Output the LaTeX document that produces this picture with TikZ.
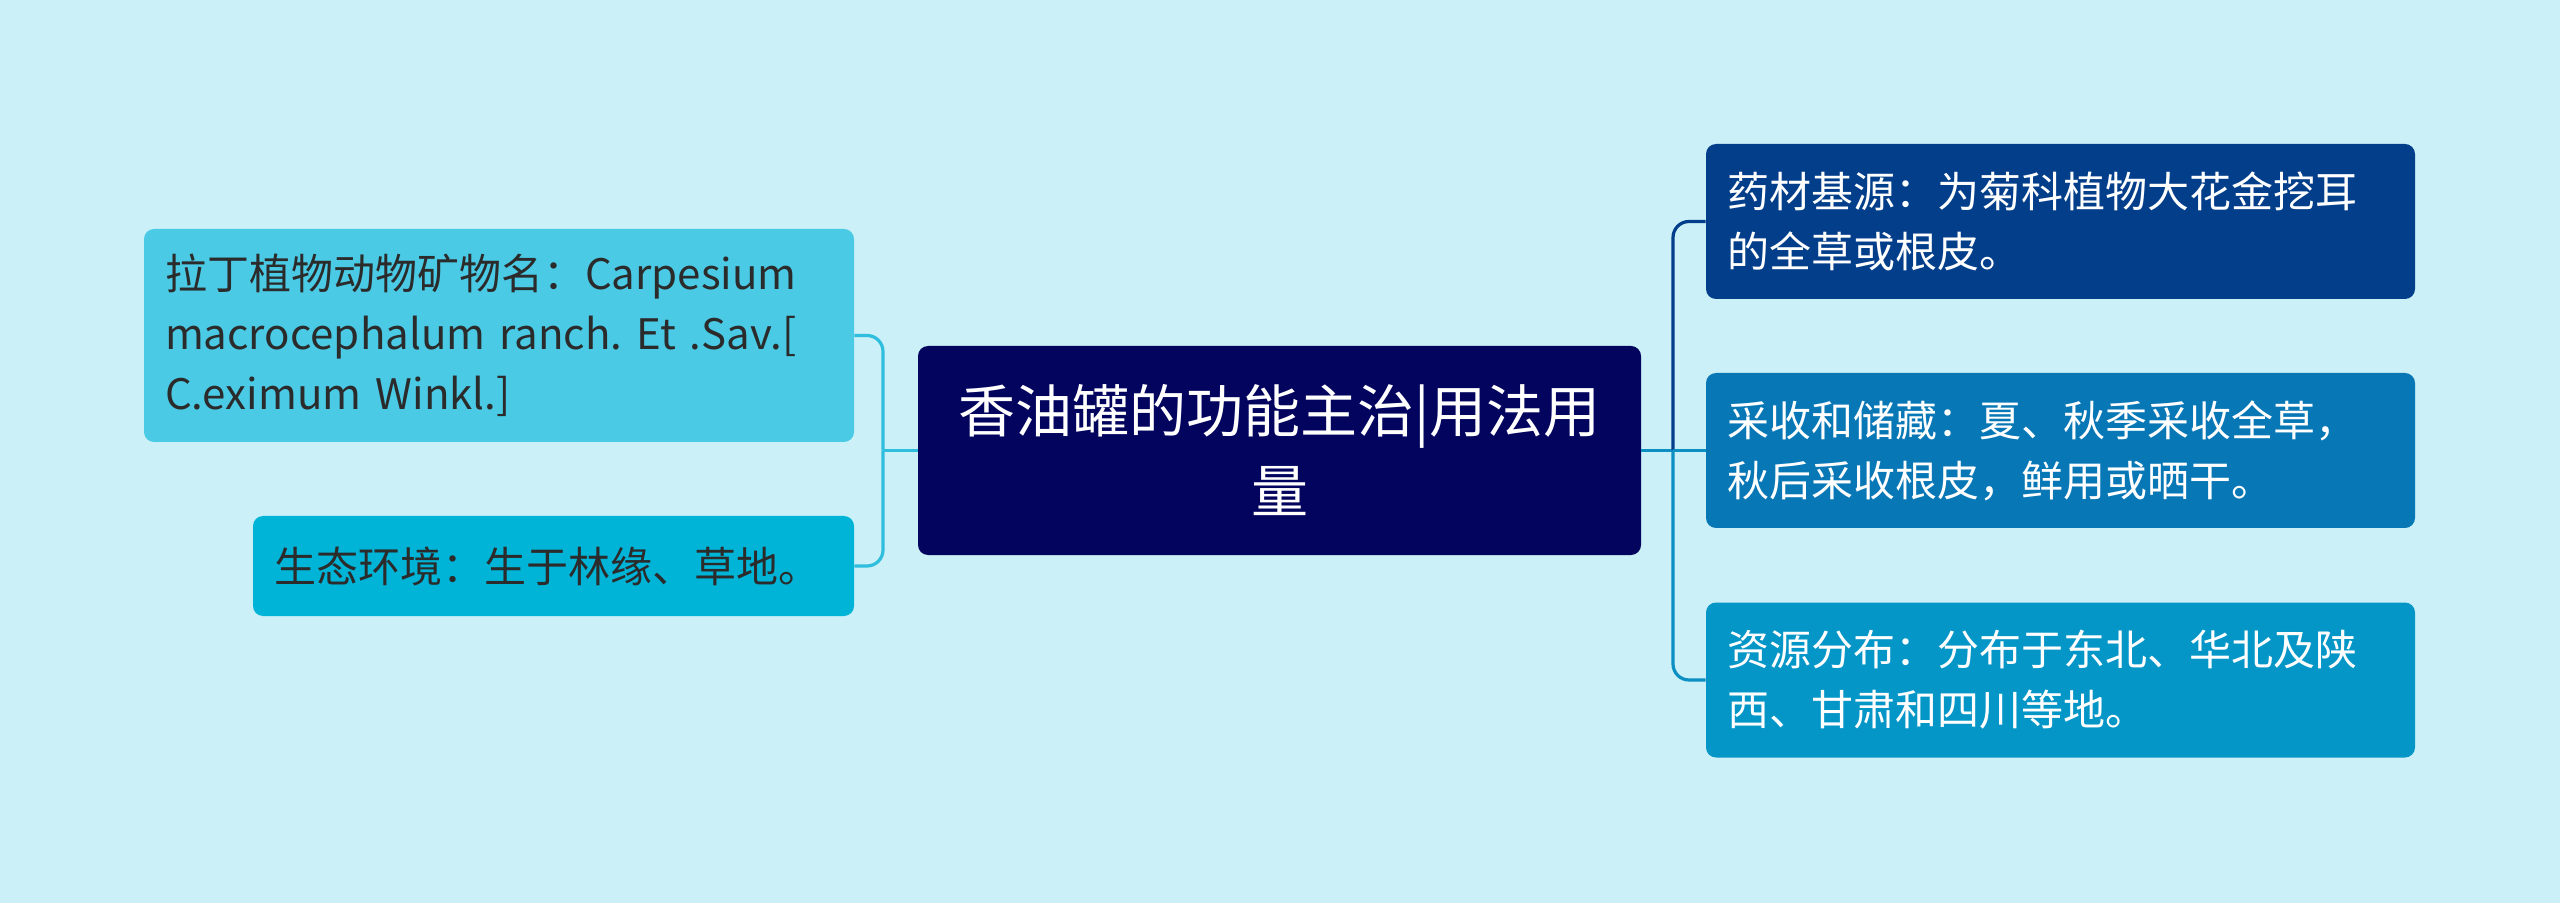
\documentclass[tikz,border=0pt]{standalone}
\usepackage{fontspec}
\setmainfont{Noto Sans CJK SC}
\frenchspacing
\definecolor{bgcol}{HTML}{CBF0F7}
\definecolor{rootcol}{HTML}{02045E}
\definecolor{lonecol}{HTML}{4ACAE5}
\definecolor{ltwocol}{HTML}{00B4D8}
\definecolor{ronecol}{HTML}{033E8A}
\definecolor{rtwocol}{HTML}{0877B6}
\definecolor{rthreecol}{HTML}{0596C8}
\definecolor{llinecol}{HTML}{2FBEDD}
\definecolor{rlinecol}{HTML}{0C8FC2}
\definecolor{inkcol}{HTML}{2B2B2B}
\tikzset{
	box/.style={rounded corners=5pt, inner sep=0pt, align=left, font=\fontsize{21pt}{30pt}\selectfont},
	rootbox/.style={box, fill=rootcol, text=white, align=center, minimum width=361.5pt, minimum height=104.5pt, font=\fontsize{28.5pt}{40pt}\selectfont},
	leftbox/.style={box, text=inkcol},
	rightbox/.style={box, text=white, minimum width=354.5pt, minimum height=77.5pt, text width=333.5pt},
	branch/.style={line width=1.6pt, rounded corners=8pt},
}
\begin{document}
\begin{tikzpicture}[x=0.5pt, y=-0.5pt]
		\fill[bgcol] (0,0) rectangle (2560,903);
		\useasboundingbox (0,0) rectangle (2560,903);
		\node[rootbox] (root) at (1279.5,450.5) {香油罐的功能主治|用法用\\量};
		% left side
		\node[leftbox, fill=lonecol, minimum width=355pt, minimum height=106.5pt, text width=334pt] (latin) at (499,335.5) {拉丁植物动物矿物名：Carpesium\\macrocephalum ranch. Et .Sav.[\\C.eximum Winkl.]};
		\node[leftbox, fill=ltwocol, minimum width=300.5pt, minimum height=50pt, text width=279.5pt] (habitat) at (553.5,566) {生态环境：生于林缘、草地。};
		% right side
		\node[rightbox, fill=ronecol] (origin) at (2060.5,221.5) {药材基源：为菊科植物大花金挖耳\\的全草或根皮。};
		\node[rightbox, fill=rtwocol] (harvest) at (2060.5,450.5) {采收和储藏：夏、秋季采收全草，\\秋后采收根皮，鲜用或晒干。};
		\node[rightbox, fill=rthreecol] (spread) at (2060.5,680) {资源分布：分布于东北、华北及陕\\西、甘肃和四川等地。};
		\coordinate (lj) at (883,450.5);
		\coordinate (rj) at (1673,450.5);
		\draw[branch, llinecol] (root.west) -- (lj);
		\draw[branch, llinecol] (lj) |- (latin.east);
		\draw[branch, llinecol] (lj) |- (habitat.east);
		\draw[branch, rlinecol] (root.east) -- (rj);
		\draw[branch, ronecol] (rj) |- (origin.west);
		\draw[branch, rlinecol] (rj) -- (harvest.west);
		\draw[branch, rlinecol] (rj) |- (spread.west);
	\end{tikzpicture}
\end{document}
